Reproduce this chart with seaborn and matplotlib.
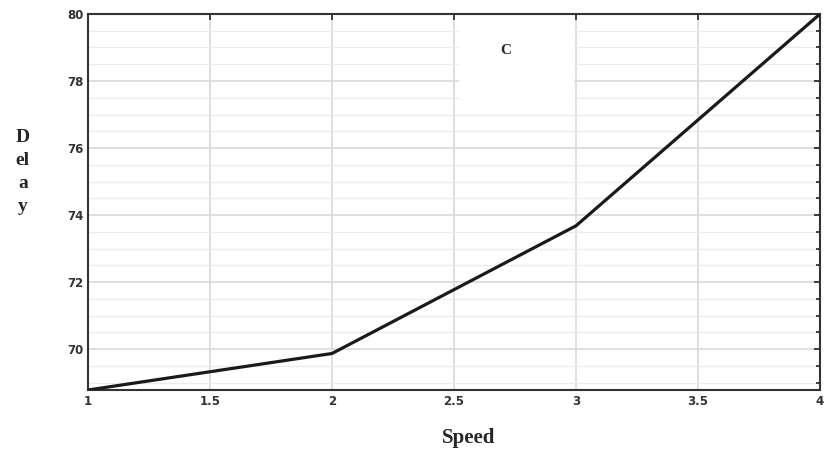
import numpy as np
import pandas as pd
import matplotlib
matplotlib.use('Agg')
import matplotlib.pyplot as plt
import seaborn as sns
from matplotlib.ticker import MultipleLocator
from matplotlib.patches import Rectangle

# Data
speed = [1, 2, 3, 4]
delay = [68.78, 69.87, 73.68, 80.0]
x_ticks = [1, 1.5, 2, 2.5, 3, 3.5, 4]
x_tick_labels = ['1', '1.5', '2', '2.5', '3', '3.5', '4']
y_ticks = [70, 72, 74, 76, 78, 80]

df = pd.DataFrame({'Speed': speed, 'Delay': delay})

sns.set_style('white')
plt.rcParams['font.family'] = ['DejaVu Sans']

fig = plt.figure(figsize=(8.27, 4.5), dpi=100)
ax = fig.add_axes([0.1064, 0.1333, 0.8852, 0.8357])

sns.lineplot(data=df, x='Speed', y='Delay', ax=ax, color='#1a1a1a', linewidth=2.3, zorder=5)

ax.set_xlim(1, 4)
ax.set_ylim(68.78, 80)
ax.set_xticks(x_ticks)
ax.set_xticklabels(x_tick_labels)
ax.set_yticks(y_ticks)
ax.yaxis.set_minor_locator(MultipleLocator(0.5))

# Grid: major lines a bit stronger, minor lighter
ax.grid(True, which='major', color='#d9d9d9', linewidth=1.2)
ax.grid(True, which='minor', axis='y', color='#ececec', linewidth=0.9)
ax.set_axisbelow(True)

ax.tick_params(which='both', direction='in', top=True, right=True,
               length=4, width=1.2, colors='#222222', labelsize=8.5)
ax.tick_params(which='minor', length=3)
for lbl in ax.get_xticklabels() + ax.get_yticklabels():
    lbl.set_fontweight('bold')
    lbl.set_color('#333333')

for s in ax.spines.values():
    s.set_color('#333333')
    s.set_linewidth(1.5)

ax.set_xlabel('Speed', family='Liberation Serif', fontweight='bold', fontsize=15)
ax.xaxis.set_label_coords(0.52, -0.1)
ax.set_ylabel('D\nel\na\ny', family='Liberation Serif', fontweight='bold', fontsize=14,
              rotation=0, linespacing=1.45, va='center', ha='center')
ax.yaxis.set_label_coords(-0.089, 0.58)

# Panel label in a white box under the top spine
ax.add_patch(Rectangle((2.52, 77.45), 0.47, 80 - 77.45, facecolor='white',
                       edgecolor='none', zorder=1.5))
ax.text(2.71, 78.92, 'C', family='Liberation Serif', fontweight='bold', fontsize=11,
        ha='center', va='center', zorder=6)

fig.savefig('out.png', dpi=100)
